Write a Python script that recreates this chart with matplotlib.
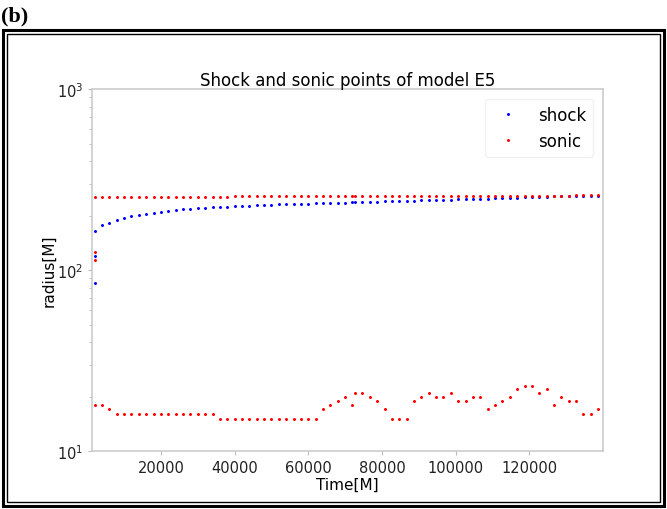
import matplotlib
matplotlib.use("Agg")
import matplotlib.pyplot as plt
from matplotlib.patches import Rectangle

# time samples (there is one extra sample at 72000 after a restart)
time = [2000, 4000, 6000, 8000, 10000, 12000, 14000, 16000, 18000, 20000,
        22000, 24000, 26000, 28000, 30000, 32000, 34000, 36000, 38000, 40000,
        42000, 44000, 46000, 48000, 50000, 52000, 54000, 56000, 58000, 60000,
        62000, 64000, 66000, 68000, 70000, 72000,
        72700, 74700, 76700, 78700, 80700, 82700, 84700, 86700, 88700, 90700,
        92700, 94700, 96700, 98700, 100700, 102700, 104700, 106700, 108700, 110700,
        112700, 114700, 116700, 118700, 120700, 122700, 124700, 126700, 128700, 130700,
        132700, 134700, 136700, 138700]

shock = [164, 177, 183, 190, 195, 198, 201, 204, 207, 210,
         212, 214, 216, 217, 219, 220, 222, 223, 224, 225,
         226, 227, 228, 229, 230, 231, 231, 232, 233, 233,
         234, 235, 235, 236, 236, 237,
         237, 238, 238, 239, 240, 240, 241, 241, 242, 243,
         243, 244, 244, 245, 246, 246, 247, 247, 248, 249,
         249, 250, 251, 252, 252, 253, 254, 255, 255, 256,
         257, 257, 258, 258]

sonic_outer = [254, 254, 254, 254, 254, 254, 254, 254, 254, 254,
               254, 254, 254, 254, 254, 254, 254, 254, 254, 257,
               257, 257, 257, 257, 257, 257, 257, 257, 257, 257,
               257, 257, 257, 257, 257, 257,
               257, 257, 257, 257, 257, 257, 257, 257, 257, 257,
               257, 257, 257, 257, 257, 257, 257, 257, 257, 257,
               257, 257, 257, 257, 257, 258, 258, 258, 258, 258,
               259, 259, 259, 259]

sonic_inner = [18, 18, 17, 16, 16, 16, 16, 16, 16, 16,
               16, 16, 16, 16, 16, 16, 16, 15, 15, 15,
               15, 15, 15, 15, 15, 15, 15, 15, 15, 15,
               15, 17, 18, 19, 20, 18,
               21, 21, 20, 19, 17, 15, 15, 15, 19, 20,
               21, 20, 20, 21, 19, 19, 20, 20, 17, 18,
               19, 20, 22, 23, 23, 21, 22, 18, 20, 19,
               19, 16, 16, 17]

# extra roots found at the very first output time
t0_shock = [119, 85]
t0_sonic = [126, 113]

fig = plt.figure(figsize=(6.67, 5.10), dpi=100)
ax = fig.add_axes([0.138, 0.1137, 0.766, 0.7098])

ms = 2.3
ax.plot(time, shock, '.', color='blue', ms=ms, label='shock')
ax.plot([time[0]] * len(t0_shock), t0_shock, '.', color='blue', ms=ms)
ax.plot(time, sonic_outer, '.', color='red', ms=ms, label='sonic')
ax.plot(time, sonic_inner, '.', color='red', ms=ms)
ax.plot([time[0]] * len(t0_sonic), t0_sonic, '.', color='red', ms=ms)

ax.set_yscale('log')
ax.set_ylim(10, 1000)
ax.set_xlim(1300, 140000)
ax.set_xticks([20000, 40000, 60000, 80000, 100000, 120000])

for s in ax.spines.values():
    s.set_color('#cccccc')
    s.set_linewidth(1.2)
ax.tick_params(which='both', colors='#bbbbbb', labelcolor='#222222', labelsize=10.5)
ax.tick_params(which='major', length=3)
ax.tick_params(which='minor', length=2)

ax.set_title('Shock and sonic points of model E5', fontsize=12, pad=1.5)
ax.set_xlabel('Time[M]', fontsize=11, labelpad=1)
ax.set_ylabel('radius[M]', fontsize=11, labelpad=0)

leg = ax.legend(loc='upper right', fontsize=12, numpoints=1, fancybox=True,
                borderaxespad=0.6)
leg.get_frame().set_edgecolor('#eeeeee')

# document frame and panel label
fig.patches.append(Rectangle((3.2 / 667, 3 / 510), 660.8 / 667, 476 / 510,
                             transform=fig.transFigure, fill=False,
                             edgecolor='black', linewidth=2.2))
fig.patches.append(Rectangle((7.3 / 667, 7 / 510), 652.7 / 667, 467.7 / 510,
                             transform=fig.transFigure, fill=False,
                             edgecolor='black', linewidth=1.0))
fig.text(0.002, 0.988, '(b)', family='Liberation Serif', weight='bold',
         fontsize=16, va='top', ha='left')

fig.savefig('out.png', dpi=100)
